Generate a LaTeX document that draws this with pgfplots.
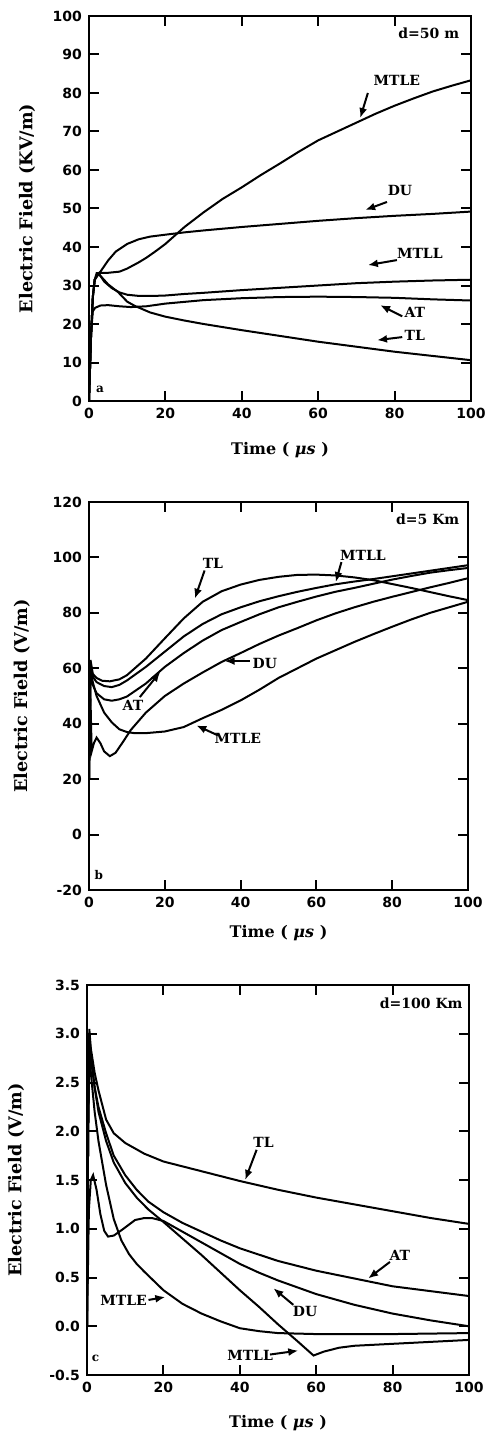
\documentclass[border=0pt]{standalone}
\usepackage{pgfplots}
\pgfplotsset{compat=1.18}
\usepackage{fontspec}
\setmainfont{DejaVu Serif}
\newfontfamily\tickfont{DejaVu Sans}
\usetikzlibrary{arrows.meta}
\pgfplotsset{
  panel/.style={
    scale only axis,
    xmin=0, xmax=100,
    xtick={0,20,40,60,80,100},
    axis line style={line width=1.2pt},
    tick style={draw=black, line width=1pt},
    major tick length=5pt,
    tick align=inside,
    /pgf/number format/assume math mode=true,
    tick label style={font=\tickfont\bfseries\fontsize{7}{8}\selectfont},
    xlabel style={font=\bfseries\fontsize{8}{9}\selectfont},
    ylabel style={font=\bfseries\fontsize{8.8}{10}\selectfont},
    xlabel={Time ( \textit{μs} )},
    cycle list={black\\},
    every axis plot post/.append style={line width=1pt, mark=none},
  },
}
\tikzset{
  lab/.style={font=\bfseries\fontsize{7}{8}\selectfont, inner sep=0pt},
  arr/.style={-{Latex[length=5pt,width=4pt]}, line width=1pt},
  tk/.style={line width=1pt, black},
}
\begin{document}
\begin{tikzpicture}
\useasboundingbox (0,0) rectangle (244pt,-716.5pt);
% ---------------- panel a ----------------
\begin{axis}[panel,
  at={(44.5pt,-200.5pt)}, anchor=south west,
  width=191pt, height=192.5pt,
  ymin=0, ymax=100, ytick={0,10,...,100},
  ylabel={Electric Field (KV/m)},
  ylabel style={at={(axis description cs:-0.162,0.5)}, anchor=center},
  xlabel style={at={(axis description cs:0.5,-0.127)}, anchor=center},
]
\pgfplotsinvokeforeach{20,40,60,80}{
  \draw[tk] (axis cs:#1,0) -- (axis cs:#1,2.4);
  \draw[tk] (axis cs:#1,100) -- (axis cs:#1,97.6);}
\pgfplotsinvokeforeach{10,20,30,40,50,60,70,80,90}{
  \draw[tk] (axis cs:0,#1) -- (axis cs:2.4,#1);
  \draw[tk] (axis cs:100,#1) -- (axis cs:97.6,#1);}
% MTLE
\addplot coordinates {(0,0) (0.5,16) (1,27) (1.5,31.5) (2,33.2) (3,33.3) (5,33.3) (8,33.6) (10,34.4) (13,36) (15,37.2) (17.3,38.8) (20,40.8) (22.5,43) (25,45.2) (30,49) (35,52.5) (40,55.5) (45,58.7) (50,61.7) (55,64.8) (60,67.7) (65,70) (70,72.3) (75,74.6) (80,76.7) (85,78.6) (90,80.4) (95,81.9) (100,83.3)};
% DU
\addplot coordinates {(0,0) (0.5,16) (1,27) (1.5,31.5) (2,32.5) (3,33.6) (5,36.5) (7,38.8) (10,40.8) (13,42) (16,42.7) (20,43.2) (25,43.8) (30,44.3) (40,45.2) (50,46) (60,46.8) (70,47.5) (80,48.1) (90,48.6) (100,49.2)};
% MTLL
\addplot coordinates {(0,0) (0.5,16) (1,27) (1.5,31.5) (2.5,33) (3,32.5) (4,31) (6,29.3) (8,28.2) (10,27.6) (13,27.3) (17,27.3) (20,27.4) (25,27.8) (30,28.1) (40,28.8) (50,29.4) (60,30) (70,30.6) (80,31) (90,31.3) (100,31.5)};
% AT
\addplot coordinates {(0,0) (0.5,17) (1,23.3) (1.6,24.2) (3,24.8) (5,24.9) (8,24.6) (11,24.4) (15,24.6) (20,25.3) (30,26.2) (40,26.7) (50,27) (60,27.1) (70,27) (80,26.8) (90,26.4) (100,26.1)};
% TL
\addplot coordinates {(0,0) (0.5,16) (1,27) (1.5,31.5) (2.5,33) (3,32.5) (5,30.3) (7.6,28.3) (10,25.8) (12,24.7) (16,23) (20,21.9) (25,20.9) (30,20) (40,18.4) (50,16.9) (60,15.4) (70,14.1) (80,12.8) (90,11.7) (100,10.6)};
\node[lab] at (axis cs:80.6,83.4) {MTLE};
\draw[arr] (axis cs:73,80) -- (axis cs:71,73.5);
\node[lab] at (axis cs:81.4,54.8) {DU};
\draw[arr] (axis cs:78,51.7) -- (axis cs:72.3,49.6);
\node[lab] at (axis cs:86.6,38.4) {MTLL};
\draw[arr] (axis cs:80.6,36.6) -- (axis cs:73,35.3);
\node[lab] at (axis cs:85.3,22.9) {AT};
\draw[arr] (axis cs:82,22) -- (axis cs:76.2,24.9);
\node[lab] at (axis cs:85.3,17.1) {TL};
\draw[arr] (axis cs:82,16.6) -- (axis cs:75.4,15.8);
\node[lab, anchor=east] at (axis cs:97,95.6) {d=50 m};
\node[lab, font=\bfseries\fontsize{6}{7}\selectfont] at (axis cs:2.9,2.9) {a};
\end{axis}
% ---------------- panel b ----------------
\begin{axis}[panel,
  at={(44.5pt,-445pt)}, anchor=south west,
  width=189.5pt, height=194pt,
  ymin=-20, ymax=120, ytick={-20,0,...,120},
  ylabel={Electric Field (V/m)},
  ylabel style={at={(axis description cs:-0.177,0.5)}, anchor=center},
  xlabel style={at={(axis description cs:0.5,-0.111)}, anchor=center},
]
\pgfplotsinvokeforeach{20,40,60,80}{
  \draw[tk] (axis cs:#1,-20) -- (axis cs:#1,-16.75);
  \draw[tk] (axis cs:#1,120) -- (axis cs:#1,116.75);}
\pgfplotsinvokeforeach{0,20,40,60,80,100}{
  \draw[tk] (axis cs:0,#1) -- (axis cs:2.4,#1);
  \draw[tk] (axis cs:100,#1) -- (axis cs:97.6,#1);}
% TL
\addplot coordinates {(0,20) (0.4,63) (1,58) (2,56.5) (3.5,55.5) (5.5,55.3) (8,56) (10,57.5) (15,63.5) (20,70.8) (25,78) (30,84) (35,87.8) (40,90.2) (45,91.9) (50,93) (55,93.7) (60,93.8) (65,93.5) (70,92.8) (75,91.8) (80,90.4) (85,89) (90,87.5) (95,86) (100,84.6)};
% MTLL
\addplot coordinates {(0,20) (0.4,62) (1,57) (2,55) (4,53.6) (6,53.2) (8,54) (10,55.6) (15,60.5) (20,66) (25,71.5) (30,76) (35,79.5) (40,82) (45,84.2) (50,86) (55,87.6) (60,89) (65,90.3) (70,91.3) (75,92.2) (80,93.2) (85,94.2) (90,95.2) (95,96.2) (100,97.2)};
% AT
\addplot coordinates {(0,20) (0.4,60) (1,54) (2,51) (4,48.8) (6,48.3) (8,48.8) (10,49.8) (15,54.5) (20,60.5) (25,65.5) (30,70) (35,73.8) (40,76.7) (45,79.5) (50,82) (55,84) (60,85.9) (65,87.6) (70,89) (75,90.5) (80,92) (85,93.3) (90,94.5) (95,95.4) (100,96.2)};
% DU
\addplot coordinates {(0,20) (0.3,55) (0.7,30) (1.3,33) (2,35) (3,33) (4,30) (5.5,28.3) (7,29.5) (9,33.5) (11,37.7) (15,44) (20,50) (25,54.5) (30,58.5) (35,62.3) (40,65.5) (45,68.8) (50,71.8) (55,74.5) (60,77.3) (65,79.8) (70,82) (75,84) (80,85.8) (85,87.5) (90,89.2) (95,90.8) (100,92.5)};
% MTLE
\addplot coordinates {(0,20) (0.3,62) (0.8,56) (2,50) (4,44) (6,40.5) (8,38) (10,37) (12,36.6) (15,36.6) (20,37.2) (25,38.8) (30,42) (35,45) (40,48.4) (45,52.3) (50,56.5) (55,60) (60,63.5) (65,66.5) (70,69.5) (75,72.3) (80,75) (85,77.6) (90,80) (95,82) (100,84)};
\node[lab] at (axis cs:32.7,97.7) {TL};
\draw[arr] (axis cs:30.5,95.3) -- (axis cs:27.9,85.1);
\node[lab] at (axis cs:72.3,100.7) {MTLL};
\draw[arr] (axis cs:66.6,98.3) -- (axis cs:65.1,91.1);
\node[lab] at (axis cs:46.4,61.9) {DU};
\draw[arr] (axis cs:42.4,62.6) -- (axis cs:35.8,62.6);
\node[lab] at (axis cs:11.6,46.6) {AT};
\draw[arr] (axis cs:13.4,49.6) -- (axis cs:18.8,58.7);
\node[lab] at (axis cs:39.3,34.6) {MTLE};
\draw[arr] (axis cs:34,35.8) -- (axis cs:28.3,39.4);
\node[lab, anchor=east] at (axis cs:97.8,113.6) {d=5 Km};
\node[lab, font=\bfseries\fontsize{6}{7}\selectfont] at (axis cs:2.6,-14.7) {b};
\end{axis}
% ---------------- panel c ----------------
\begin{axis}[panel,
  at={(43.5pt,-687.5pt)}, anchor=south west,
  width=191pt, height=195pt,
  ymin=-0.5, ymax=3.5, ytick={-0.5,0,0.5,1,1.5,2,2.5,3,3.5},
  yticklabel style={/pgf/number format/fixed, /pgf/number format/fixed zerofill, /pgf/number format/precision=1},
  ylabel={Electric Field (V/m)},
  ylabel style={at={(axis description cs:-0.186,0.5)}, anchor=center},
  xlabel style={at={(axis description cs:0.5,-0.123)}, anchor=center},
]
\pgfplotsinvokeforeach{20,40,60,80}{
  \draw[tk] (axis cs:#1,-0.5) -- (axis cs:#1,-0.408);
  \draw[tk] (axis cs:#1,3.5) -- (axis cs:#1,3.408);}
\pgfplotsinvokeforeach{0,0.5,1,1.5,2,2.5,3}{
  \draw[tk] (axis cs:0,#1) -- (axis cs:2.4,#1);
  \draw[tk] (axis cs:100,#1) -- (axis cs:97.6,#1);}
% TL
\addplot coordinates {(0,0) (0.3,2.0) (0.6,3.05) (1,2.85) (2,2.6) (3,2.42) (5,2.12) (7,1.98) (10,1.88) (15,1.77) (20,1.69) (25,1.64) (30,1.59) (35,1.54) (40,1.49) (50,1.40) (60,1.32) (70,1.25) (80,1.18) (90,1.11) (100,1.05)};
% AT
\addplot coordinates {(0,0) (0.3,2.0) (0.6,2.95) (1,2.75) (2,2.45) (3,2.25) (5,1.98) (7,1.75) (10,1.55) (13,1.4) (16,1.28) (20,1.17) (25,1.06) (30,0.97) (35,0.88) (40,0.8) (50,0.67) (60,0.57) (70,0.49) (80,0.41) (90,0.36) (100,0.31)};
% DU
\addplot coordinates {(0,0) (0.5,1.2) (1,1.5) (1.6,1.55) (2.5,1.4) (3.5,1.15) (4.5,0.98) (5.5,0.92) (7,0.93) (9.2,0.99) (12.6,1.09) (15,1.11) (17,1.11) (20,1.08) (25,0.97) (30,0.86) (35,0.75) (40,0.64) (45,0.55) (50,0.47) (60,0.33) (70,0.22) (80,0.13) (90,0.06) (100,0.0)};
% MTLL
\addplot coordinates {(0,0) (0.3,2.0) (0.6,3.0) (1,2.8) (2,2.45) (3,2.2) (5,1.9) (7,1.68) (10,1.47) (13,1.32) (16,1.2) (20,1.07) (25,0.9) (30,0.73) (35,0.55) (40,0.37) (45,0.2) (50,0.02) (55,-0.15) (59.3,-0.3) (62,-0.26) (66,-0.22) (70,-0.2) (80,-0.18) (90,-0.16) (100,-0.14)};
% MTLE
\addplot coordinates {(0,0) (0.3,2.0) (0.6,2.9) (1,2.6) (2,2.2) (3,1.9) (5,1.45) (7,1.1) (9,0.88) (11,0.74) (13,0.64) (15,0.56) (20,0.37) (25,0.23) (30,0.13) (35,0.05) (40,-0.02) (45,-0.05) (50,-0.07) (60,-0.08) (70,-0.08) (80,-0.08) (90,-0.075) (100,-0.07)};
\node[lab] at (axis cs:46.2,1.89) {TL};
\draw[arr] (axis cs:44.4,1.81) -- (axis cs:41.4,1.50);
\node[lab] at (axis cs:81.9,0.73) {AT};
\draw[arr] (axis cs:79.3,0.66) -- (axis cs:73.6,0.49);
\node[lab] at (axis cs:57.1,0.15) {DU};
\draw[arr] (axis cs:54,0.22) -- (axis cs:48.8,0.39);
\node[lab] at (axis cs:9.6,0.27) {MTLE};
\draw[arr] (axis cs:16.1,0.27) -- (axis cs:20.5,0.30);
\node[lab] at (axis cs:42.7,-0.30) {MTLL};
\draw[arr] (axis cs:47.9,-0.29) -- (axis cs:55.3,-0.25);
\node[lab, anchor=east] at (axis cs:98.4,3.31) {d=100 Km};
\node[lab, font=\bfseries\fontsize{6}{7}\selectfont] at (axis cs:2.2,-0.33) {c};
\end{axis}
\end{tikzpicture}
\end{document}
